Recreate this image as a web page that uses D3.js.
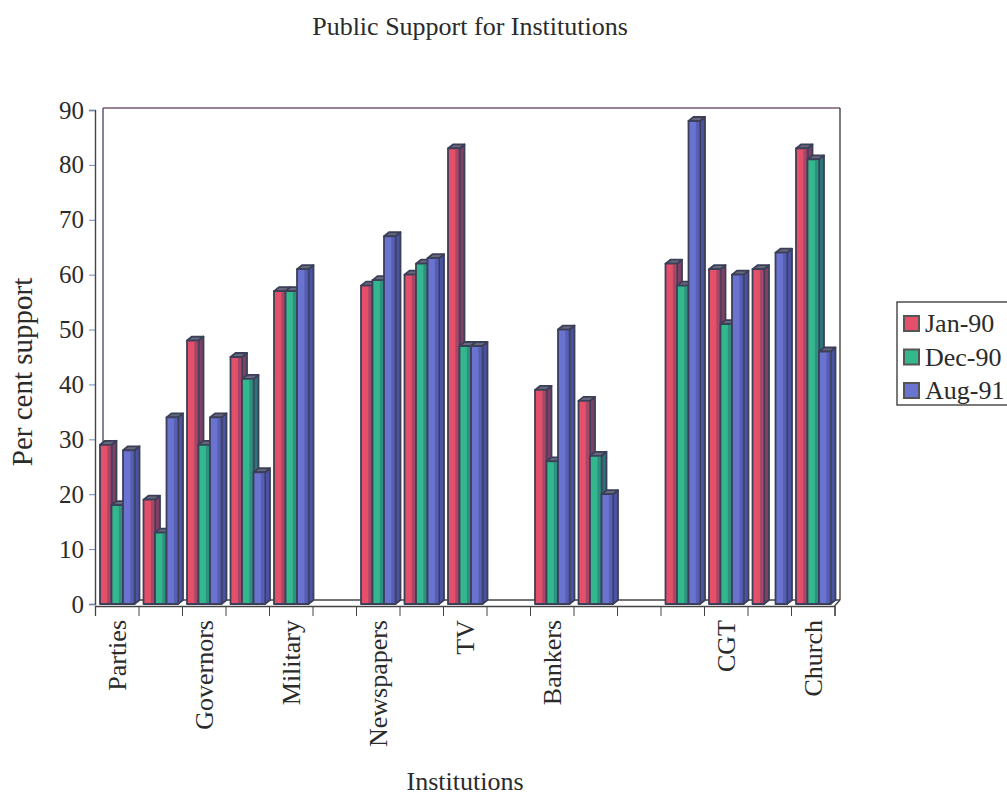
<!DOCTYPE html>
<html>
<head>
<meta charset="utf-8">
<script src="https://cdn.jsdelivr.net/npm/d3@7"></script>
<style>
  body { margin: 0; background: #fff; }
  svg { display: block; }
  text { font-family: "Liberation Serif", "DejaVu Serif", serif; fill: #2b2b2b; }
</style>
</head>
<body>
<div id="chart"></div>
<script>
// values; null = no bar in that slot
const labels = ['Parties', '', 'Governors', '', 'Military', '', 'Newspapers', '', 'TV', '', 'Bankers', '', '', '', 'CGT', '', 'Church'];
const series = ['Jan-90', 'Dec-90', 'Aug-91'];
const jan90 = [29, 19, 48, 45, 57, null, 58, 60, 83, null, 39, 37, null, 62, 61, 61, 83];
const dec90 = [18, 13, 29, 41, 57, null, 59, 62, 47, null, 26, 27, null, 58, 51, null, 81];
const aug91 = [28, 34, 34, 24, 61, null, 67, 63, 47, null, 50, 20, null, 88, 60, 64, 46];
const yTicks = [0, 10, 20, 30, 40, 50, 60, 70, 80, 90];

const W = 1007, H = 795;
const plotLeft = 95, plotRight = 834.5, plotTop = 110, plotBottom = 604;
const depthX = 5, depthY = 4;

const front = { 'Jan-90': '#e4506a', 'Dec-90': '#33b88e', 'Aug-91': '#6a74d0' };
const side = { 'Jan-90': '#7e4064', 'Dec-90': '#2c7476', 'Aug-91': '#4a52a2' };
const capColor = '#66687c';
const edge = '#3c3f58';

const svg = d3.select('#chart').append('svg')
    .attr('width', W)
    .attr('height', H);

const x0 = d3.scaleBand()
    .domain(d3.range(labels.length))
    .range([plotLeft, plotRight]);

const x1 = d3.scaleBand()
    .domain(series)
    .range([5, 5 + 34.5]);

const y = d3.scaleLinear()
    .domain([0, 90])
    .range([plotBottom, plotTop]);

const xEdge = d3.scaleLinear()
    .domain([0, labels.length])
    .range([plotLeft, plotRight]);

// walls / floor
const frame = svg.append('g').attr('fill', 'none').attr('stroke-width', 1.4);
frame.append('line')
    .attr('x1', plotLeft + 8).attr('y1', plotTop - 2).attr('x2', 840).attr('y2', plotTop - 2)
    .attr('stroke', '#7a5a70');
frame.append('line')
    .attr('x1', 840).attr('y1', plotTop - 2).attr('x2', 840).attr('y2', plotBottom - 4)
    .attr('stroke', '#444');
frame.append('line')
    .attr('x1', plotLeft + 8).attr('y1', plotTop - 2).attr('x2', plotLeft + 8).attr('y2', plotBottom - 4)
    .attr('stroke', '#4a4f6e');
frame.append('line')
    .attr('x1', plotLeft + 8).attr('y1', plotBottom - 4).attr('x2', 840).attr('y2', plotBottom - 4)
    .attr('stroke', '#444');
frame.append('line')
    .attr('x1', plotRight).attr('y1', plotBottom + 2).attr('x2', 840).attr('y2', plotBottom - 4)
    .attr('stroke', '#444');

// bars
const rows = [];
labels.forEach((lab, i) => {
    [jan90[i], dec90[i], aug91[i]].forEach((v, j) => {
        if (v != null) rows.push({ slot: i, key: series[j], value: v });
    });
});

const barG = svg.append('g').attr('class', 'bars');
const bw = x1.bandwidth();

const bar = barG.selectAll('g.bar')
    .data(rows)
    .join('g')
    .attr('class', 'bar')
    .attr('stroke', edge)
    .attr('stroke-width', 1.8)
    .attr('stroke-linejoin', 'round');

bar.append('path')
    .attr('fill', d => side[d.key])
    .attr('d', d => {
        const xr = x0(d.slot) + x1(d.key) + bw;
        const yt = y(d.value), yb = y(0);
        return `M${xr},${yt}L${xr + depthX},${yt - depthY}L${xr + depthX},${yb - depthY}L${xr},${yb}Z`;
    });

bar.append('path')
    .attr('fill', capColor)
    .attr('d', d => {
        const xl = x0(d.slot) + x1(d.key);
        const yt = y(d.value);
        return `M${xl},${yt}L${xl + depthX},${yt - depthY}L${xl + bw + depthX},${yt - depthY}L${xl + bw},${yt}Z`;
    });

bar.append('rect')
    .attr('x', d => x0(d.slot) + x1(d.key))
    .attr('y', d => y(d.value))
    .attr('width', bw)
    .attr('height', d => y(0) - y(d.value))
    .attr('fill', d => front[d.key]);

// inner darker strip on right of each front face
bar.append('rect')
    .attr('x', d => x0(d.slot) + x1(d.key) + bw * 0.64)
    .attr('y', d => y(d.value) + 1)
    .attr('width', bw * 0.36)
    .attr('height', d => Math.max(0, y(0) - y(d.value) - 2))
    .attr('fill', d => side[d.key])
    .attr('stroke', 'none')
    .attr('opacity', 0.6);

// y axis
const yAxis = svg.append('g')
    .attr('transform', `translate(${plotLeft},0)`)
    .call(d3.axisLeft(y).tickValues(yTicks).tickSize(6).tickPadding(5));
yAxis.select('.domain').attr('stroke', '#444').attr('stroke-width', 1.4);
yAxis.selectAll('.tick line').attr('stroke', '#6a8cb8');
yAxis.selectAll('.tick text')
    .attr('font-size', 25)
    .attr('font-family', '"Liberation Serif", serif')
    .attr('fill', '#2b2b2b');

// x axis (ticks on slot edges)
const xAxis = svg.append('g')
    .attr('transform', `translate(0,${plotBottom + 2})`)
    .call(d3.axisBottom(xEdge).tickValues(d3.range(labels.length + 1)).tickSize(10).tickFormat(''));
xAxis.select('.domain').attr('stroke', '#444').attr('stroke-width', 1.3);
xAxis.selectAll('.tick line').attr('stroke', '#444');

svg.append('g')
    .selectAll('text')
    .data(labels.map((t, i) => ({ t, i })).filter(d => d.t !== ''))
    .join('text')
    .attr('transform', d => `translate(${x0(d.i) + x0.bandwidth() / 2},${plotBottom + 16}) rotate(-90)`)
    .attr('dy', '0.35em')
    .attr('text-anchor', 'end')
    .attr('font-size', 26)
    .text(d => d.t);

// titles
svg.append('text')
    .attr('x', 470).attr('y', 35)
    .attr('text-anchor', 'middle')
    .attr('font-size', 26)
    .text('Public Support for Institutions');

svg.append('text')
    .attr('transform', `translate(22,${(plotTop + plotBottom) / 2 + 15}) rotate(-90)`)
    .attr('dy', '0.35em')
    .attr('text-anchor', 'middle')
    .attr('font-size', 29)
    .text('Per cent support');

svg.append('text')
    .attr('x', 465).attr('y', 790)
    .attr('text-anchor', 'middle')
    .attr('font-size', 26)
    .text('Institutions');

// legend
const legend = svg.append('g').attr('transform', 'translate(897,302)');
legend.append('rect')
    .attr('width', 130).attr('height', 103)
    .attr('fill', 'none').attr('stroke', '#333').attr('stroke-width', 1.3);
const item = legend.selectAll('g.item')
    .data(series)
    .join('g')
    .attr('class', 'item')
    .attr('transform', (d, i) => `translate(0,${21 + i * 33.5})`);
item.append('rect')
    .attr('x', 7).attr('y', -7).attr('width', 15).attr('height', 15)
    .attr('fill', d => front[d])
    .attr('stroke', '#555').attr('stroke-width', 2);
item.append('text')
    .attr('x', 28).attr('dy', '0.35em')
    .attr('font-size', 26)
    .text(d => d);
</script>
</body>
</html>
